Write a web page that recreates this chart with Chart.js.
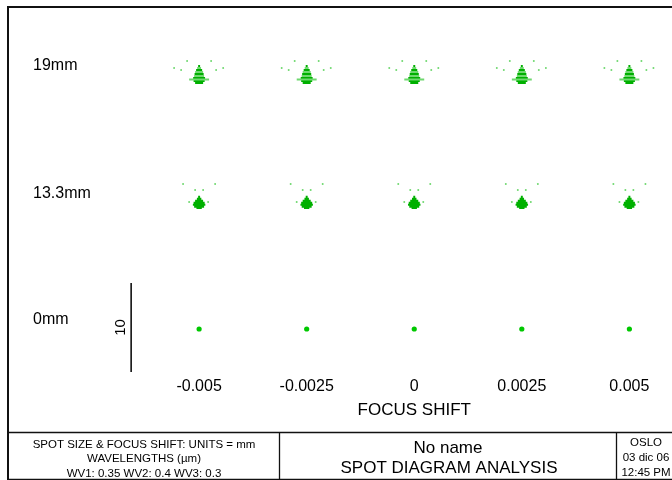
<!DOCTYPE html>
<html>
<head>
<meta charset="utf-8">
<script src="https://cdn.jsdelivr.net/npm/chart.js@4"></script>
<style>
  html, body { margin: 0; padding: 0; background: #fff; }
  canvas { display: block; }
</style>
</head>
<body>
<canvas id="c" width="672" height="480"></canvas>
<script>
// ---------------- DATA ----------------
const focusShifts = [-0.005, -0.0025, 0, 0.0025, 0.005];           // mm
const tickLabels  = ['-0.005', '-0.0025', '0', '0.0025', '0.005'];
const axisTitle   = 'FOCUS SHIFT';
const fieldLabels = ['19mm', '13.3mm', '0mm'];
const fieldRowY   = [33.37, 18.99, 4.83];                             // row centre on the µm axis
// spot patterns, offsets in µm: [dy, halfWidth] for stripes, [dx, dy] for dots
const spot19Dark  = [[1.01, 0.11], [0.56, 0.34], [0.11, 0.51], [-0.34, 0.67], [-0.67, 0.62], [-0.90, 0.45]];
const spot19Light = [[0.79, 0.22], [0.34, 0.45], [-0.11, 0.56], [-0.51, 1.12]];
const spot19Dots  = [[-1.35, 1.57], [1.35, 1.57], [-2.81, 0.79], [-2.02, 0.56], [1.91, 0.56], [2.70, 0.79]];
const spot13Core  = [[0.70, 0.11], [0.48, 0.25], [0.25, 0.45], [0.03, 0.62], [-0.20, 0.70], [-0.42, 0.56], [-0.56, 0.30]];
const spot13Dots  = [[-1.80, 2.13], [1.80, 2.13], [-0.45, 1.46], [0.45, 1.46], [-1.12, 0.11], [1.01, 0.11]];
const spot0Core   = [[0, 0]];
const scaleBarUm  = [0, 10];
const scaleBarShift = -0.00658;
const titleLeft   = ['SPOT SIZE & FOCUS SHIFT: UNITS = mm', 'WAVELENGTHS (\u00b5m)', 'WV1: 0.35 WV2: 0.4 WV3: 0.3'];
const titleMid    = ['No name', 'SPOT DIAGRAM ANALYSIS'];
const titleRight  = ['OSLO', '03 dic 06', '12:45 PM'];

// ---------------- LAYOUT CONSTANTS ----------------
const UM_TO_SHIFT = 0.0025 / 12.08;   // horizontal spot magnification (µm -> focus-shift axis units)
const FONT = "'Liberation Sans', Arial, sans-serif";
const DARK = '#00b000', LIGHT = '#6fd86f', BRIGHT = '#00c800';

function stripeData(row, pattern) {
  const out = [];
  focusShifts.forEach(fs => {
    pattern.forEach(([dy, hw]) => {
      out.push({x: fs - hw * UM_TO_SHIFT, y: fieldRowY[row] + dy});
      out.push({x: fs + hw * UM_TO_SHIFT, y: fieldRowY[row] + dy});
      out.push({x: fs, y: null});
    });
  });
  return out;
}
function dotData(row, pattern) {
  const out = [];
  focusShifts.forEach(fs => {
    pattern.forEach(([dx, dy]) => out.push({x: fs + dx * UM_TO_SHIFT, y: fieldRowY[row] + dy}));
  });
  return out;
}
const stripeDs = (data, color) => ({type: 'line', data, showLine: true, borderColor: color, borderWidth: 2,
  pointRadius: 0, spanGaps: false, borderCapStyle: 'butt', fill: false});
const dotDs = (data, color, r) => ({type: 'scatter', data, backgroundColor: color, borderWidth: 0,
  pointRadius: r, pointHoverRadius: r});

const datasets = [
  {type: 'line', data: scaleBarUm.map(v => ({x: scaleBarShift, y: v})), borderColor: '#000', borderWidth: 1.5,
   pointRadius: 0, fill: false},
  stripeDs(stripeData(0, spot19Light), LIGHT),
  stripeDs(stripeData(0, spot19Dark), DARK),
  dotDs(dotData(0, spot19Dots), LIGHT, 1),
  stripeDs(stripeData(1, spot13Core), DARK),
  dotDs(dotData(1, spot13Dots), LIGHT, 1),
  dotDs(dotData(2, spot0Core), BRIGHT, 2.6),
];

const frame = {
  id: 'frame',
  afterDraw(chart) {
    const ctx = chart.ctx, ys = chart.scales.y, xs = chart.scales.x;
    ctx.save();
    ctx.strokeStyle = '#111';
    ctx.lineWidth = 2;
    ctx.beginPath();
    ctx.moveTo(8, 480); ctx.lineTo(8, 7); ctx.lineTo(672, 7);
    ctx.stroke();
    ctx.lineWidth = 1.3;
    ctx.beginPath();
    ctx.moveTo(8, 432.5); ctx.lineTo(672, 432.5);
    ctx.moveTo(279.5, 432); ctx.lineTo(279.5, 480);
    ctx.moveTo(616.5, 432); ctx.lineTo(616.5, 480);
    ctx.moveTo(8, 479.5); ctx.lineTo(672, 479.5);
    ctx.stroke();

    ctx.fillStyle = '#000';
    ctx.textBaseline = 'middle';
    // axis title, centred on the zero focus-shift column
    ctx.textAlign = 'center';
    ctx.font = '17px ' + FONT;
    ctx.fillText(axisTitle, xs.getPixelForValue(0), 410);
    // field labels
    ctx.textAlign = 'left';
    ctx.font = '16px ' + FONT;
    fieldLabels.forEach((t, i) => ctx.fillText(t, 33, ys.getPixelForValue(fieldRowY[i]) - 9));
    // scale bar label
    ctx.save();
    ctx.translate(xs.getPixelForValue(scaleBarShift) - 10, ys.getPixelForValue((scaleBarUm[0] + scaleBarUm[1]) / 2));
    ctx.rotate(-Math.PI / 2);
    ctx.textAlign = 'center';
    ctx.font = '15px ' + FONT;
    ctx.fillText('10', 0, 0);
    ctx.restore();
    // title block
    ctx.textAlign = 'center';
    ctx.font = '11.5px ' + FONT;
    titleLeft.forEach((t, i) => ctx.fillText(t, 144, 444.5 + i * 14.5));
    ctx.font = '17px ' + FONT;
    ctx.fillText(titleMid[0], 448, 448);
    ctx.fillText(titleMid[1], 449, 468);
    ctx.font = '11.5px ' + FONT;
    titleRight.forEach((t, i) => ctx.fillText(t, 646, 443 + i * 15));
    ctx.restore();
  }
};

new Chart(document.getElementById('c'), {
  type: 'scatter',
  data: {datasets},
  plugins: [frame],
  options: {
    responsive: false,
    devicePixelRatio: 1,
    animation: false,
    events: [],
    layout: {padding: {left: 9, top: 7, right: 0, bottom: 48}},
    plugins: {legend: {display: false}, tooltip: {enabled: false}},
    scales: {
      x: {
        type: 'linear',
        min: -0.0094186,
        max: 0.00593,
        afterBuildTicks: s => { s.ticks = focusShifts.map(v => ({value: v})); },
        afterFit: s => { s.height = 60; s.paddingLeft = 0; s.paddingRight = 0; },
        grid: {display: false, drawTicks: false},
        border: {display: false},
        ticks: {
          autoSkip: false, maxRotation: 0, padding: 5, color: '#000',
          font: {family: FONT, size: 16},
          callback: (v, i) => tickLabels[i]
        },
        title: {display: false, text: axisTitle}
      },
      y: {type: 'linear', display: false, min: 0, max: 41}
    }
  }
});
</script>
</body>
</html>
